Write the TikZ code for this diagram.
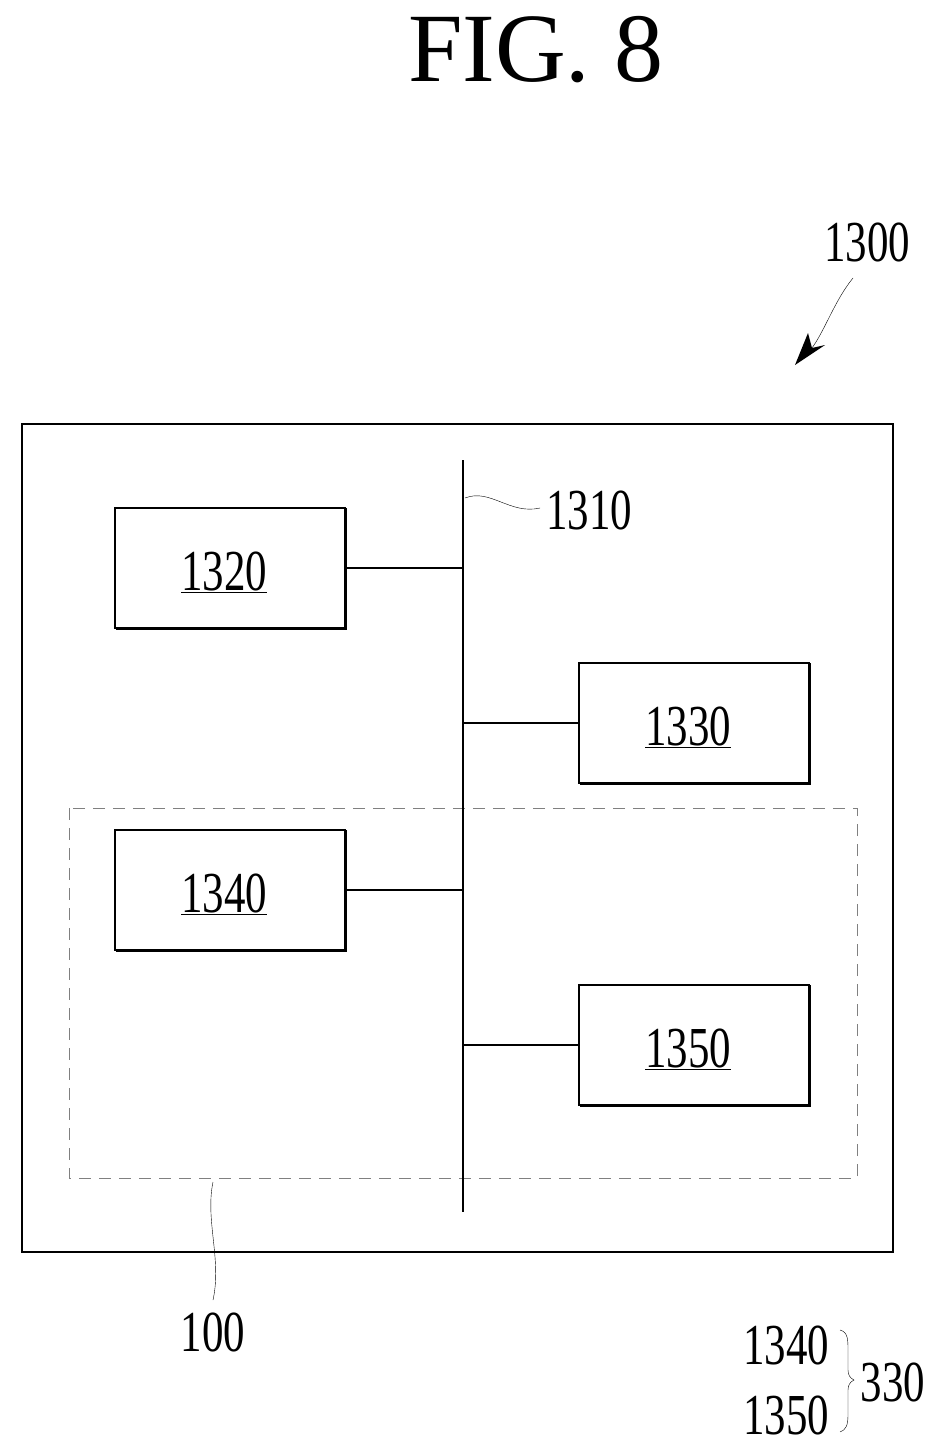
\documentclass[tikz,border=0pt]{standalone}
\usepackage{fontspec}
\setmainfont{Liberation Serif}
\usetikzlibrary{decorations.pathmorphing,arrows.meta}
\begin{document}
\begin{tikzpicture}[x=1pt,y=-1pt,
 lbl/.style={font=\fontsize{58}{58}\selectfont,inner sep=0,xscale=0.74}]
\useasboundingbox (0,0) rectangle (942,1456);
\node[font=\fontsize{98}{98}\selectfont,inner sep=0] (title) at (536,50) {FIG. 8};
\draw[line width=1.3pt] (22,424) rectangle (893,1252);
\draw[line width=1pt,dash pattern=on 12pt off 8pt,gray] (69,808) rectangle (857,1178);
\coordinate (bt) at (463,460); \coordinate (bb) at (463,1212);
\draw[line width=1.5pt] (bt) -- (bb);
\foreach \n/\x/\y in {1320/230/568,1330/694/723,1340/230/890,1350/694/1045}{
  \draw[line width=2.5pt] (\x-115+1,\y+60+1) -- (\x+115+1,\y+60+1) -- (\x+115+1,\y-60);
  \node[draw,line width=1.3pt,minimum width=230pt,minimum height=120pt,inner sep=0] (b\n) at (\x,\y) {};
  \node[lbl] at (\x-6,\y+4) {\underline{\n}};
}
\draw[line width=1.3pt] (b1320.east) -- (463,568);
\draw[line width=1.3pt] (b1340.east) -- (463,890);
\draw[line width=1.3pt] (b1330.west) -- (463,723);
\draw[line width=1.3pt] (b1350.west) -- (463,1045);
\node[lbl] (l1310) at (589,510) {1310};
\draw[thin] (465,498) .. controls (490,488) and (510,515) .. (540,508);
\node[lbl] (l100) at (213,1332) {100};
\draw[thin] (213,1182) .. controls (205,1220) and (222,1260) .. (213,1300);
\node[lbl] (l1300) at (867,242) {1300};
\draw[thin] (853,278) .. controls (835,300) and (825,330) .. (812,348);
\fill (795,365) -- (808,333) -- (812,348) -- (825,345) -- cycle;
\node[lbl] (l1340) at (786,1345) {1340};
\node[lbl] (l1350) at (786,1415) {1350};
\draw[thin] (840,1330) .. controls (848,1332) and (848,1340) .. (848,1350) -- (848,1370) .. controls (848,1375) and (850,1378) .. (854,1380)
  .. controls (850,1382) and (848,1385) .. (848,1390) -- (848,1415) .. controls (848,1425) and (846,1430) .. (840,1432);
\node[lbl] (l330) at (893,1382) {330};
\end{tikzpicture}
\end{document}
